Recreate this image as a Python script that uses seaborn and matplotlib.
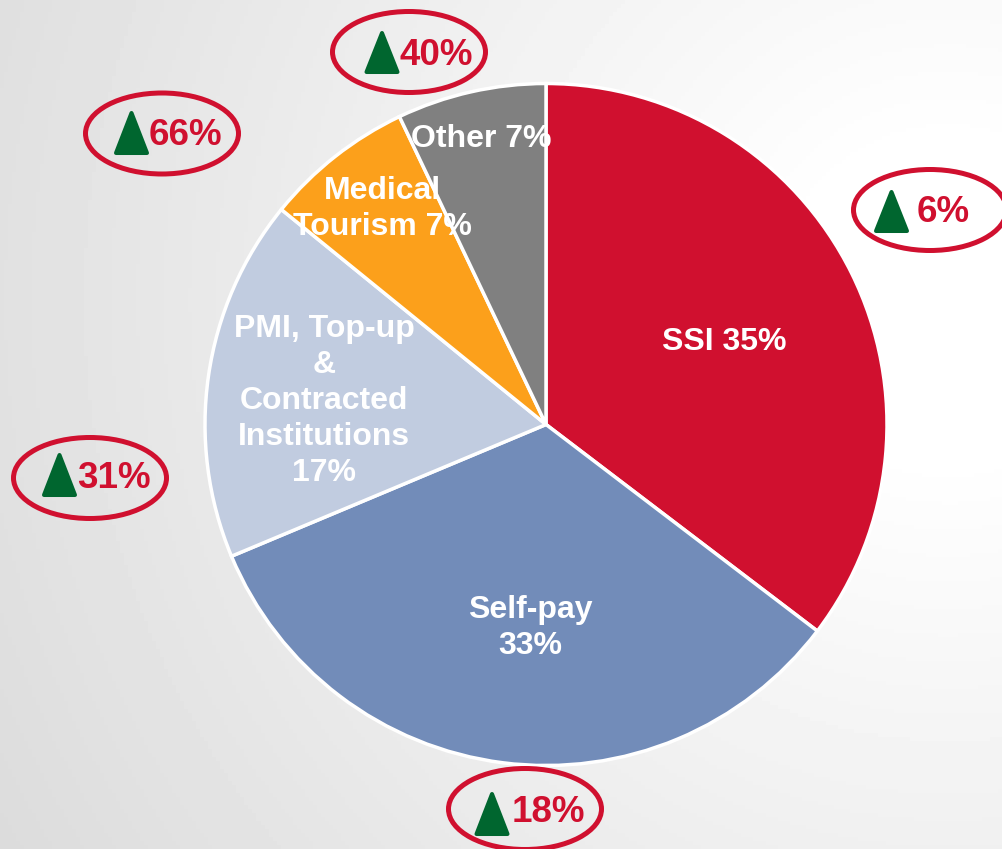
import numpy as np
import matplotlib
matplotlib.use("Agg")
import matplotlib.pyplot as plt
from matplotlib.patches import Ellipse, Polygon
import seaborn as sns

sns.set_theme(style="white")
plt.rcParams['font.family'] = ['Liberation Sans', 'DejaVu Sans']

categories = ["SSI", "Self-pay", "PMI, Top-up & Contracted Institutions", "Medical Tourism", "Other"]
shares = [35, 33, 17, 7, 7]
slice_colors = ["#D0102F", "#728CB9", "#C1CCE0", "#FCA01B", "#808080"]
slice_labels = ["SSI 35%", "Self-pay\n33%", "PMI, Top-up\n&\nContracted\nInstitutions\n17%",
                "Medical\nTourism 7%", "Other 7%"]
label_px = [(724, 342), (530, 628), (324, 401), (382, 209), (481, 139)]
growth = ["6%", "18%", "31%", "66%", "40%"]
ellipse_px = [(930, 210), (525, 809), (90, 478), (162, 133.5), (409, 52)]
arrow_x = [891.5, 492, 59.5, 131.5, 382]
arrow_y = [(233, 190), (836, 792), (497, 453), (155, 111), (74, 31)]
growth_px = [(943.5, 212), (548.5, 812), (113.5, 478), (185, 135), (436.5, 55)]

W, H = 1002, 849
fig = plt.figure(figsize=(W/100, H/100), dpi=100)

# radial grey-to-white background
bg = fig.add_axes([0, 0, 1, 1])
gx, gy = np.meshgrid(np.linspace(0, W, 250), np.linspace(0, H, 212))
dist = np.hypot(gx - 950, gy - 300)
bg.imshow(np.clip(1.0 - 0.125 * (dist - 150) / 850, 0, 1), cmap="gray", vmin=0, vmax=1,
          aspect="auto", extent=[0, W, H, 0])
bg.set_xlim(0, W); bg.set_ylim(H, 0); bg.axis("off")

# pie
cx, cy, r = 546, 424.5, 341
ax = fig.add_axes([(cx-r)/W, 1-(cy+r)/H, 2*r/W, 2*r/H])
ax.pie(shares, colors=slice_colors, startangle=90, counterclock=False, radius=1,
       wedgeprops=dict(edgecolor="white", linewidth=2.5))
ax.set_xlim(-1, 1); ax.set_ylim(-1, 1)
ax.patch.set_alpha(0)

ov = fig.add_axes([0, 0, 1, 1])
ov.set_xlim(0, W); ov.set_ylim(H, 0); ov.axis("off"); ov.patch.set_alpha(0)
for t, (x, y) in zip(slice_labels, label_px):
    ov.text(x, y, t, color="white", fontsize=23, fontweight="bold",
            ha="center", va="center", linespacing=1.27)
for (ex, ey), tri_x, (yb, yt), t, (tx, ty) in zip(ellipse_px, arrow_x, arrow_y, growth, growth_px):
    ov.add_patch(Ellipse((ex, ey), 153, 81, fill=False, edgecolor="#D0102F", linewidth=3.6))
    ov.add_patch(Polygon([(tri_x-15.5, yb-2), (tri_x+15.5, yb-2), (tri_x, yt+2)], closed=True,
                         facecolor="#00662F", edgecolor="#00662F", linewidth=2.9, joinstyle="round"))
    ov.text(tx, ty, t, color="#D0102F", fontsize=26.5, fontweight="bold", ha="center", va="center")

fig.savefig("out.png", dpi=100)
